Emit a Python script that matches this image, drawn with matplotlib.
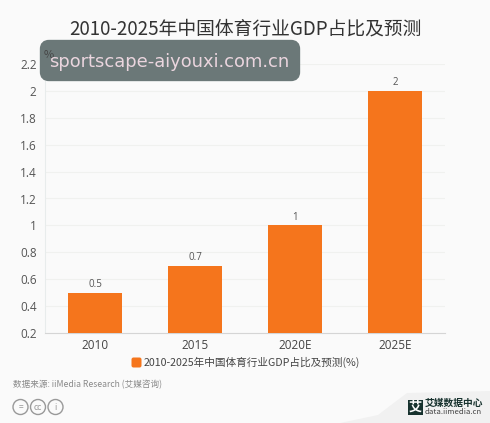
import matplotlib
matplotlib.use("Agg")
import matplotlib.pyplot as plt
from matplotlib.patches import FancyBboxPatch, Circle, Rectangle, Polygon

plt.rcParams['font.family'] = ['Noto Sans CJK SC', 'DejaVu Sans']

categories = ['2010', '2015', '2020E', '2025E']
values = [0.5, 0.7, 1, 2]
value_labels = ['0.5', '0.7', '1', '2']
yticks = [0.2, 0.4, 0.6, 0.8, 1, 1.2, 1.4, 1.6, 1.8, 2, 2.2]
ytick_labels = ['0.2', '0.4', '0.6', '0.8', '1', '1.2', '1.4', '1.6', '1.8', '2', '2.2']
title = '2010-2025年中国体育行业GDP占比及预测'
series_name = '2010-2025年中国体育行业GDP占比及预测(%)'
source = '数据来源: iiMedia Research (艾媒咨询)'
watermark = 'sportscape-aiyouxi.com.cn'

W, H = 490, 423
fig = plt.figure(figsize=(W/100, H/100), dpi=100, facecolor='#fafafa')

ax = fig.add_axes([45/W, 1-333/H, 400/W, 269/H], facecolor='none')
ax.bar(range(len(values)), [v-0.2 for v in values], bottom=0.2, width=0.545,
       color='#f5751c', zorder=3)
for i, (v, s) in enumerate(zip(values, value_labels)):
    ax.text(i, v+0.02, s, ha='center', va='bottom', fontsize=7, color='#555555', zorder=4,
            family='Open Sans')
ax.set_xlim(-0.5, 3.5)
ax.set_ylim(0.2, 2.2)
ax.set_yticks(yticks)
ax.set_yticklabels(ytick_labels, fontsize=8.5, color='#555555', family='Open Sans')
ax.set_xticks(range(len(categories)))
ax.set_xticklabels(categories, fontsize=8.5, color='#444444', family='Open Sans')
ax.tick_params(length=0, pad=4)
ax.tick_params(axis='y', pad=6)
ax.grid(axis='y', color='#f0f1ef', lw=0.8, zorder=0)
for s in ['top', 'right']:
    ax.spines[s].set_visible(False)
ax.spines['left'].set_color('#e8ecec')
ax.spines['bottom'].set_color('#d5d5d5')

# overlay in pixel coordinates
ov = fig.add_axes([0, 0, 1, 1], facecolor='none')
ov.set_xlim(0, W); ov.set_ylim(H, 0); ov.axis('off')

ov.text(245, 29, title, ha='center', va='center', fontsize=13.5, color='#333333')

ov.add_patch(FancyBboxPatch((44, 44), 252, 33, boxstyle='round,pad=0,rounding_size=5',
                            fc='#6b7878', ec='#6b7878', lw=6, zorder=5))
ov.text(49, 55, '%', ha='center', va='center', fontsize=8, color='#444444', zorder=6)
ov.text(169.5, 62, watermark, ha='center', va='center', fontsize=12.9, color='#ead5de',
        family='DejaVu Sans', zorder=6)

# legend
ov.add_patch(FancyBboxPatch((133, 359), 7, 7, boxstyle='round,pad=1.5,rounding_size=2',
                            fc='#f5751c', ec='none'))
ov.text(144, 362, series_name, ha='left', va='center', fontsize=7.65, color='#444444')

ov.text(13, 385, source, ha='left', va='center', fontsize=6.2, color='#8a8a8a')

# licence icons
for cx, s in zip([20.5, 38, 55.5], ['=', 'cc', 'i']):
    ov.add_patch(Circle((cx, 407), 7.5, fc='none', ec='#999999', lw=1))
    ov.text(cx, 407, s, ha='center', va='center', fontsize=6, color='#999999')

# logo corner
ov.add_patch(Polygon([(340, 423), (378, 415), (395, 402), (407, 393), (490, 391), (490, 423)],
                     fc='#f1f1f1', ec='none'))
ov.add_patch(Rectangle((408, 400), 15, 15, fc='#17322e', ec='none'))
ov.text(415.5, 407, '艾', ha='center', va='center', fontsize=9.5, color='white', fontweight='bold')
ov.text(425, 403, '艾媒数据中心', ha='left', va='center', fontsize=7, color='#17322e', fontweight='bold')
ov.text(425, 412.5, 'data.iimedia.cn', ha='left', va='center', fontsize=5.6, color='#444444')

fig.savefig('out.png', dpi=100, facecolor=fig.get_facecolor())
